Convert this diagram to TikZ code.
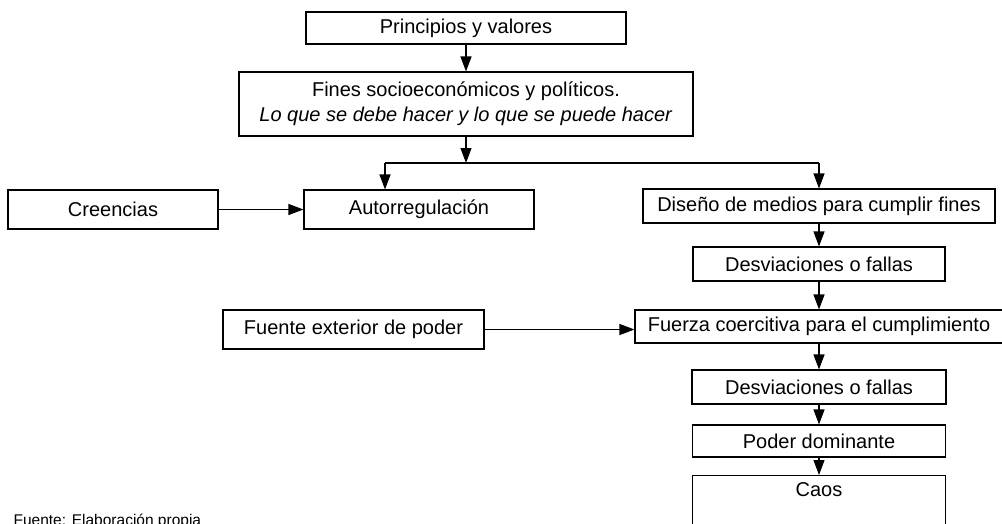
\documentclass[tikz,border=0pt]{standalone}
\usepackage{fontspec}
\setmainfont{Liberation Sans}
\usetikzlibrary{arrows.meta}

\begin{document}
\begin{tikzpicture}[
  x=1pt, y=-1pt,
  box/.style={draw, line width=1.1pt, inner sep=2pt, align=center,
    font=\fontsize{20}{25}\selectfont},
  arr/.style={-{Triangle[length=15pt, width=11pt]}},
  line width=1.1pt
]
  \useasboundingbox (0, 0) rectangle (1002, 523);

  % Nodes
  \node[box, minimum width=320pt, minimum height=32pt] (principios) at (466, 28) {Principios y valores};
  \node[box, minimum width=454pt, minimum height=64pt] (fines) at (466, 104)
    {Fines socioeconómicos y políticos.\\ \textit{Lo que se debe hacer y lo que se puede hacer}};

  \node[box, minimum width=210pt, minimum height=39pt] (creencias) at (113, 209.5) {Creencias};
  \node[box, minimum width=230pt, minimum height=39pt] (autorreg) at (419, 209.5) {Autorregulación};
  \node[box, minimum width=261pt, minimum height=39pt] (fuente) at (353.5, 329.5) {Fuente exterior de poder};

  \node[box, minimum width=352pt, minimum height=34pt] (diseno) at (819, 206) {Diseño de medios para cumplir fines};
  \node[box, minimum width=252pt, minimum height=34pt] (desv1) at (819, 264) {Desviaciones o fallas};
  \node[box, minimum width=368pt, minimum height=33pt] (fuerza) at (819, 326.5) {Fuerza coercitiva para el cumplimiento};
  \node[box, minimum width=254pt, minimum height=34pt] (desv2) at (819, 387) {Desviaciones o fallas};
  \node[box, minimum width=253pt, minimum height=32pt] (poder) at (819, 441) {Poder dominante};
  \node[box, minimum width=253pt, text height=19pt, text depth=40pt, anchor=north] (caos) at (819, 475) {Caos};

  \node[anchor=base west, inner sep=0pt, font=\fontsize{15.5}{18}\selectfont] (nota) at (13, 525)
    {Fuente: Elaboración propia};

  % Edges
  \coordinate (split) at (466, 163);
  \coordinate (izq) at (385, 163);
  \coordinate (der) at (819, 163);

  \draw[arr] (principios) -- (fines);
  \draw[arr] (fines) -- (split);
  \draw (izq) -- (der);
  \draw[arr] (izq) -- (izq |- autorreg.north);
  \draw[arr] (der) -- (diseno);

  \draw[arr] (creencias) -- (autorreg);
  \draw[arr] (fuente.east) -- (fuente.east -| fuerza.west);

  \draw[arr] (diseno) -- (desv1);
  \draw[arr] (desv1) -- (fuerza);
  \draw[arr] (fuerza) -- (desv2);
  \draw[arr] (desv2) -- (poder);
  \draw[arr] (poder) -- (caos);
\end{tikzpicture}
\end{document}
